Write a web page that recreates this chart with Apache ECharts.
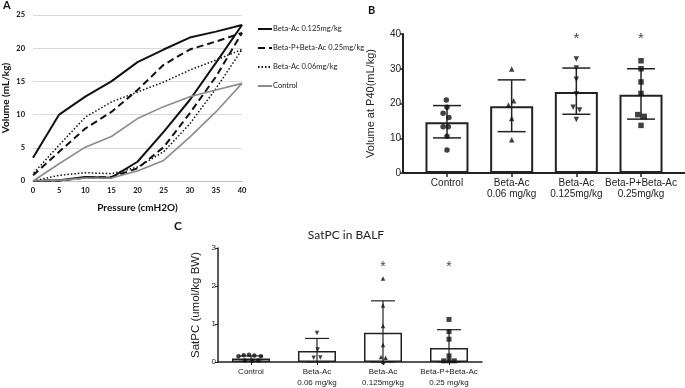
<!DOCTYPE html>
<html>
<head>
<meta charset="utf-8">
<script src="https://cdn.jsdelivr.net/npm/echarts@6/dist/echarts.min.js"></script>
<style>
  html, body { margin: 0; padding: 0; background: #fff; }
  #main { width: 685px; height: 388px; }
</style>
</head>
<body>
<div id="main"></div>
<script>
// panel A: pressure-volume loops (inflation 0->40, then deflation 40->0)
var pressure = [0, 5, 10, 15, 20, 25, 30, 35, 40, 35, 30, 25, 20, 15, 10, 5, 0];
var pvHigh = [0, 0.1, 0.6, 0.5, 2.9, 7.4, 12.2, 17.8, 23.5, 22.5, 21.6, 19.8, 17.9, 15.0, 12.7, 10.0, 3.5];
var pvCombo = [0, 0.05, 0.5, 0.6, 1.9, 5.1, 10.2, 15.7, 22.3, 21.0, 19.8, 17.5, 13.7, 10.4, 7.9, 4.4, 0.85];
var pvLow = [0, 0.85, 1.25, 1.1, 2.1, 4.4, 8.6, 13.9, 19.8, 18.2, 16.7, 14.9, 13.4, 11.9, 9.6, 5.4, 1.1];
var pvControl = [0, 0.1, 0.45, 0.45, 1.5, 3.1, 6.6, 10.4, 14.7, 13.7, 12.7, 11.2, 9.4, 6.7, 5.1, 2.6, 0];

// panel B: volume at P40
var groupsB = ['Control', 'Beta-Ac\n0.06 mg/kg', 'Beta-Ac\n0.125mg/kg', 'Beta-P+Beta-Ac\n0.25mg/kg'];
var meanB = [14.6, 19.2, 23.3, 22.5];
var lowB = [10.1, 11.9, 16.9, 15.5];
var highB = [19.4, 26.8, 30.2, 30.0];
var ptsB = [
  [21.0, 18.9, 17.2, 16.0, 13.3, 13.3, 10.6, 6.6],
  [29.9, 20.8, 19.6, 15.7, 9.6],
  [32.8, 30.2, 27.0, 22.7, 18.9, 18.1, 15.4],
  [32.3, 30.0, 26.2, 22.9, 16.8, 16.3, 13.7]
];
var jitB = [
  [-0.01, 0, -0.06, 0.03, -0.06, 0.02, 0, 0],
  [0, 0.03, -0.05, 0, 0],
  [0, 0, 0, 0, -0.05, 0.05, 0],
  [0, 0, 0, 0, -0.05, 0.05, 0]
];
var starB = [38.6, 38.6];

// panel C: SatPC in BALF
var groupsC = ['Control', 'Beta-Ac\n0.06 mg/kg', 'Beta-Ac\n0.125mg/kg', 'Beta-P+Beta-Ac\n0.25 mg/kg'];
var meanC = [0.09, 0.29, 0.77, 0.37];
var lowC = [0.02, 0, 0, 0];
var highC = [0.16, 0.62, 1.61, 0.85];
var ptsC = [
  [0.15, 0.18, 0.19, 0.17, 0.15, 0.04, 0.03, 0.04],
  [0.76, 0.33, 0.11, 0.12],
  [2.2, 1.49, 0.95, 0.45, 0.13, 0.11, 0.0],
  [1.12, 0.8, 0.6, 0.16, 0.03, 0.03, 0.03]
];
var jitC = [
  [-0.19, -0.11, -0.03, 0.05, 0.15, -0.09, 0.02, 0.11],
  [0, 0.01, -0.05, 0.05],
  [0, 0, 0, 0, -0.03, 0.04, 0],
  [0, 0, 0, 0, -0.08, 0, 0.08]
];
var starC = [2.5, 2.5];

var markers = ['circle', 'triangle', 'path://M0,0 L10,0 L5,9 Z', 'rect'];
var markersC = ['circle', 'path://M0,0 L10,0 L5,9 Z', 'triangle', 'rect'];

function pairs(xs, ys) {
  return xs.map(function (x, i) { return [x, ys[i]]; });
}

function errorSeries(xi, yi, low, high, capW, lw, z) {
  return {
    type: 'custom',
    xAxisIndex: xi, yAxisIndex: yi, z: z,
    silent: true,
    renderItem: function (params, api) {
      var x = api.value(0);
      var a = api.coord([x, api.value(1)]);
      var b = api.coord([x, api.value(2)]);
      var st = { stroke: '#222', lineWidth: lw };
      return {
        type: 'group',
        children: [
          { type: 'line', shape: { x1: a[0], y1: a[1], x2: b[0], y2: b[1] }, style: st },
          { type: 'line', shape: { x1: a[0] - capW / 2, y1: a[1], x2: a[0] + capW / 2, y2: a[1] }, style: st },
          { type: 'line', shape: { x1: b[0] - capW / 2, y1: b[1], x2: b[0] + capW / 2, y2: b[1] }, style: st }
        ]
      };
    },
    data: low.map(function (l, i) { return [i + 1, l, high[i]]; })
  };
}

var series = [];

// A lines
var lineDefs = [
  { name: 'Beta-Ac 0.125mg/kg', data: pvHigh, color: '#111', width: 2, type: 'solid' },
  { name: 'Beta-P+Beta-Ac 0.25mg/kg', data: pvCombo, color: '#111', width: 2, type: [7, 4] },
  { name: 'Beta-Ac 0.06mg/kg', data: pvLow, color: '#111', width: 1.5, type: [1.5, 2] },
  { name: 'Control', data: pvControl, color: '#8c8c8c', width: 1.6, type: 'solid' }
];
lineDefs.forEach(function (d) {
  series.push({
    name: d.name, type: 'line', xAxisIndex: 0, yAxisIndex: 0,
    showSymbol: false, symbol: 'none',
    color: d.color,
    lineStyle: { color: d.color, width: d.width, type: d.type },
    data: pairs(pressure, d.data)
  });
});

// B bars, error bars, points
series.push({
  type: 'bar', xAxisIndex: 1, yAxisIndex: 1, barWidth: 43, z: 2,
  itemStyle: { color: '#fff', borderColor: '#222', borderWidth: 2 },
  data: meanB.map(function (v, i) { return [i + 1, v]; })
});
series.push(errorSeries(1, 1, lowB, highB, 28, 1.5, 3));
ptsB.forEach(function (g, gi) {
  series.push({
    type: 'scatter', xAxisIndex: 1, yAxisIndex: 1, z: 4,
    symbol: markers[gi], symbolSize: 5.5,
    itemStyle: { color: '#111' },
    data: g.map(function (v, i) { return [gi + 1 + jitB[gi][i], v]; })
  });
});
series.push({
  type: 'scatter', xAxisIndex: 1, yAxisIndex: 1, symbolSize: 1, z: 5,
  itemStyle: { color: 'transparent' },
  label: { show: true, position: 'inside', formatter: '*', fontSize: 15, color: '#111', fontFamily: 'Liberation Sans' },
  data: starB.map(function (v, i) { return [i + 3, v]; })
});

// C bars, error bars, points
series.push({
  type: 'bar', xAxisIndex: 2, yAxisIndex: 2, barWidth: 38, z: 2,
  itemStyle: { color: '#fff', borderColor: '#222', borderWidth: 1.5 },
  data: meanC.map(function (v, i) { return [i + 1, v]; })
});
series.push(errorSeries(2, 2, lowC, highC, 24, 1.2, 3));
ptsC.forEach(function (g, gi) {
  series.push({
    type: 'scatter', xAxisIndex: 2, yAxisIndex: 2, z: 4,
    symbol: markersC[gi], symbolSize: gi === 3 ? 5 : 4.5,
    itemStyle: { color: '#111' },
    data: g.map(function (v, i) { return [gi + 1 + jitC[gi][i], v]; })
  });
});
series.push({
  type: 'scatter', xAxisIndex: 2, yAxisIndex: 2, symbolSize: 1, z: 5,
  itemStyle: { color: 'transparent' },
  label: { show: true, position: 'inside', formatter: '*', fontSize: 14, color: '#111', fontFamily: 'Liberation Sans' },
  data: starC.map(function (v, i) { return [i + 3, v]; })
});

var boldA = { fontFamily: 'Lato', fontWeight: 'bold', fontSize: 7.5, color: '#111' };

var myChart = echarts.init(document.getElementById('main'));
option = {
  animation: false,
  backgroundColor: '#fff',
  title: {
    text: 'SatPC in BALF', left: 341, top: 224, textAlign: 'center',
    textStyle: { fontFamily: 'Lato', fontWeight: 'normal', fontSize: 12, color: '#222' }
  },
  graphic: [
    { type: 'text', left: 3, top: 0, style: { text: 'A', font: 'bold 11px Lato', fill: '#111' } },
    { type: 'text', left: 368, top: 5, style: { text: 'B', font: 'bold 11px Lato', fill: '#111' } },
    { type: 'text', left: 174, top: 220, style: { text: 'C', font: 'bold 12px Lato', fill: '#111' } }
  ],
  legend: {
    orient: 'vertical', left: 252, top: 20, itemGap: 11,
    itemWidth: 14, itemHeight: 8,
    itemStyle: { opacity: 0 },
    textStyle: { fontFamily: 'Lato', fontSize: 7.5, color: '#222', padding: [0, 0, 0, -4] },
    data: lineDefs.map(function (d) { return d.name; })
  },
  grid: [
    { left: 33, top: 15, width: 209, height: 166 },
    { left: 403, top: 34, width: 282, height: 139 },
    { left: 218, top: 248, width: 264, height: 115 }
  ],
  xAxis: [{
    gridIndex: 0, type: 'value', min: 0, max: 40, interval: 5,
    name: 'Pressure (cmH2O)', nameLocation: 'middle', nameGap: 22,
    nameTextStyle: { fontFamily: 'Lato', fontWeight: 'bold', fontSize: 10, color: '#111' },
    axisLine: { lineStyle: { color: '#bfbfbf' } },
    axisTick: { show: false },
    splitLine: { show: false },
    axisLabel: Object.assign({ margin: 6 }, boldA)
  }, {
    gridIndex: 1, type: 'value', min: 0.32, max: 4.68,
    axisLine: { onZero: false, lineStyle: { color: '#222', width: 2 } },
    axisTick: { customValues: [1, 2, 3, 4], length: 4, lineStyle: { color: '#222', width: 1.5 } },
    splitLine: { show: false },
    axisLabel: {
      customValues: [1, 2, 3, 4], margin: 4, fontSize: 10, lineHeight: 11.5,
      hideOverlap: false, showMinLabel: true, showMaxLabel: true,
      fontFamily: 'Liberation Sans', color: '#222',
      formatter: function (v) { return groupsB[Math.round(v) - 1] || ''; }
    }
  }, {
    gridIndex: 2, type: 'value', min: 0.5, max: 4.5,
    axisLine: { onZero: false, lineStyle: { color: '#222', width: 1.5 } },
    axisTick: { customValues: [1, 2, 3, 4], length: 3, lineStyle: { color: '#222' } },
    splitLine: { show: false },
    axisLabel: {
      customValues: [1, 2, 3, 4], margin: 4, fontSize: 8, lineHeight: 11,
      hideOverlap: false, showMinLabel: true, showMaxLabel: true,
      fontFamily: 'Liberation Sans', color: '#222',
      formatter: function (v) { return groupsC[Math.round(v) - 1] || ''; }
    }
  }],
  yAxis: [{
    gridIndex: 0, type: 'value', min: 0, max: 25, interval: 5,
    name: 'Volume (mL/kg)', nameLocation: 'middle', nameGap: 22,
    nameTextStyle: { fontFamily: 'Lato', fontWeight: 'bold', fontSize: 10, color: '#111' },
    axisLine: { show: false },
    axisTick: { show: false },
    splitLine: { lineStyle: { color: '#d9d9d9' } },
    axisLabel: Object.assign({ margin: 8 }, boldA)
  }, {
    gridIndex: 1, type: 'value', min: 0, max: 40, interval: 10,
    name: 'Volume at P40(mL/kg)', nameLocation: 'middle', nameGap: 27,
    nameTextStyle: { fontFamily: 'Liberation Sans', fontSize: 11, color: '#222' },
    axisLine: { show: true, lineStyle: { color: '#222', width: 2 } },
    axisTick: { show: true, length: 3, lineStyle: { color: '#222', width: 1.5 } },
    splitLine: { show: false },
    axisLabel: { margin: 2, fontSize: 10, fontFamily: 'Liberation Sans', color: '#222' }
  }, {
    gridIndex: 2, type: 'value', min: 0, max: 3, interval: 1,
    name: 'SatPC (umol/kg BW)', nameLocation: 'middle', nameGap: 16,
    nameTextStyle: { fontFamily: 'Liberation Sans', fontSize: 11.5, color: '#222' },
    axisLine: { show: true, lineStyle: { color: '#222', width: 1.5 } },
    axisTick: { show: true, length: 3, lineStyle: { color: '#222' } },
    splitLine: { show: false },
    axisLabel: { margin: 2, fontSize: 8, fontFamily: 'Liberation Sans', color: '#222' }
  }],
  series: series
};
myChart.setOption(option);
</script>
</body>
</html>
